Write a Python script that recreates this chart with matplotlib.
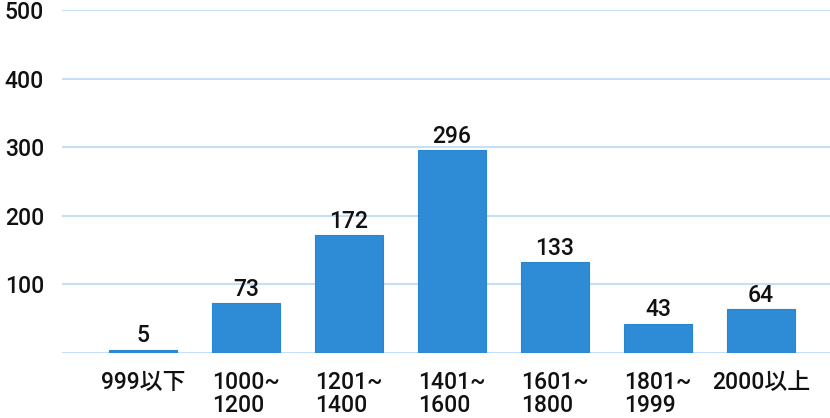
import matplotlib
matplotlib.use("Agg")
import matplotlib.pyplot as plt

categories = ["999以下", "1000~\n1200", "1201~\n1400", "1401~\n1600", "1601~\n1800", "1801~\n1999", "2000以上"]
values = [5, 73, 172, 296, 133, 43, 64]
yticks = [100, 200, 300, 400, 500]

plt.rcParams['font.family'] = ['Roboto', 'Noto Sans CJK JP', 'DejaVu Sans']
plt.rcParams['font.weight'] = 'medium'

fig = plt.figure(figsize=(8.3, 4.18), dpi=100)
ax = fig.add_axes([62/830, 65/418, 768/830, 343/418])

bar_color = "#2E8CD7"
grid_color = "#C4DFF8"
x = list(range(len(categories)))
bars = ax.bar(x, values, width=0.66, color=bar_color, edgecolor="#2A84D2", linewidth=0.8, zorder=3)

for xi, v in zip(x, values):
    ax.annotate(str(v), (xi, v), xytext=(0, 1.5), textcoords="offset points",
                ha="center", va="bottom", fontsize=16.5, color="#111111", zorder=4)

ax.set_ylim(0, 500)
ax.set_xlim(-0.786, 6.67)
ax.set_yticks(yticks)
ax.set_yticklabels([str(t) for t in yticks], fontsize=16.5, color="#111111")
for t in [0] + yticks:
    ax.axhline(t, color=grid_color, linewidth=1.5, zorder=1)

ax.set_xticks(x)
ax.set_xticklabels(categories, fontsize=16.5, color="#111111", linespacing=1.0,
                   va="top", multialignment="left")
ax.tick_params(axis="both", length=0)
ax.tick_params(axis="y", pad=13)
ax.tick_params(axis="x", pad=13)
for s in ax.spines.values():
    s.set_visible(False)

fig.savefig("out.png", dpi=100)
